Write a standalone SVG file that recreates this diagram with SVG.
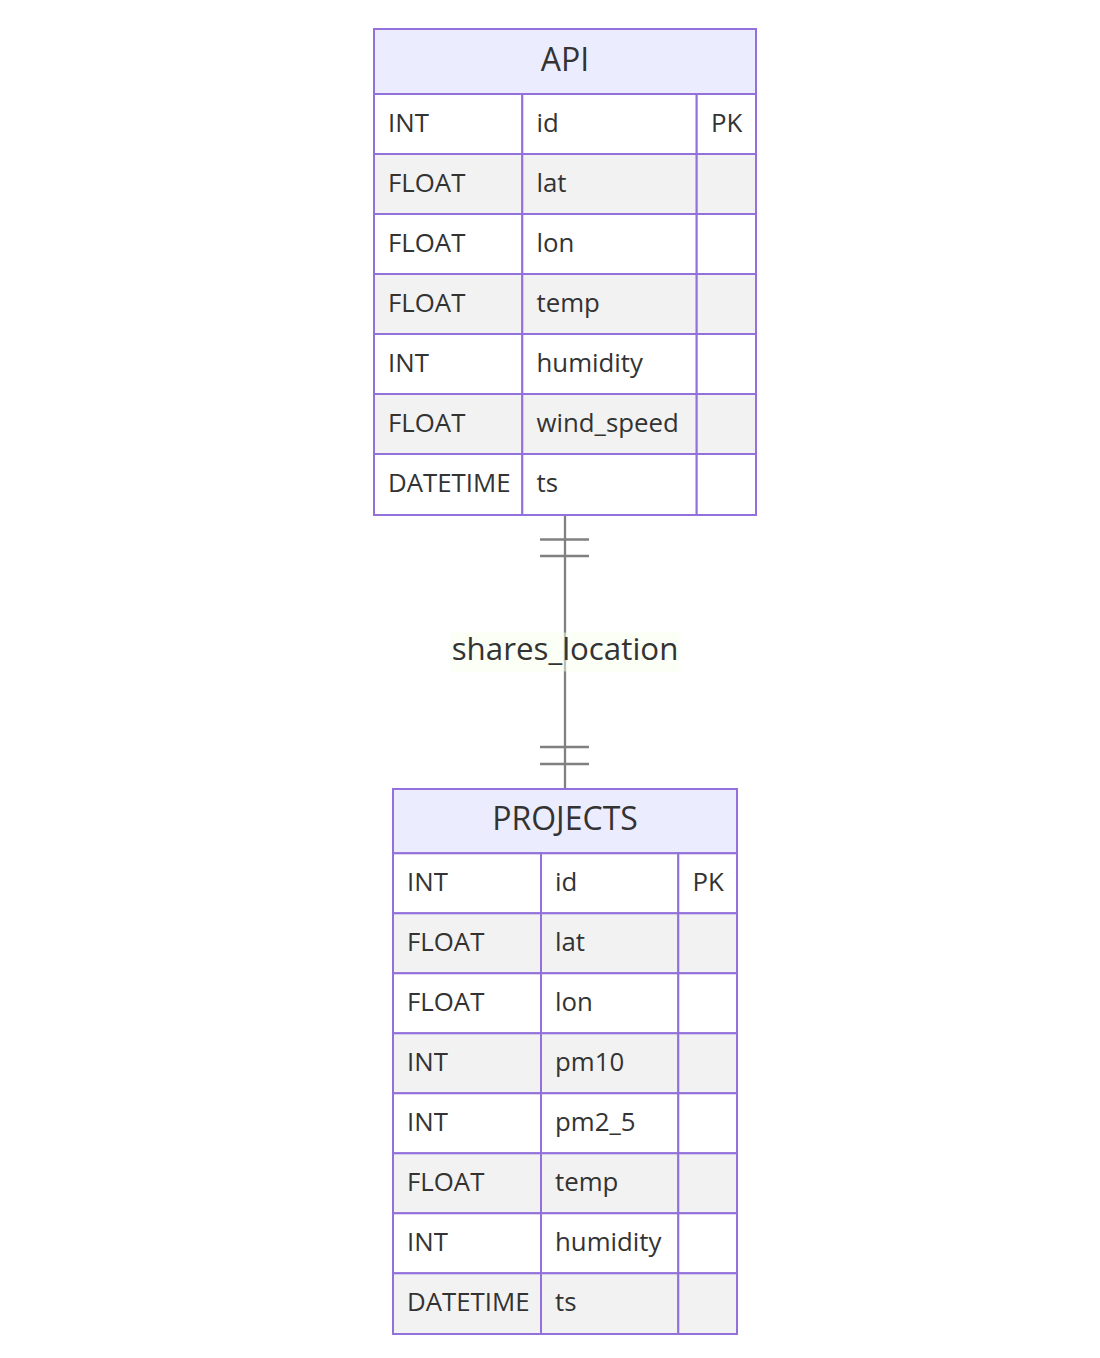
<svg xmlns="http://www.w3.org/2000/svg" width="1100" height="1358" viewBox="0 0 1100 1358">
<style>
.hdr{fill:#ECECFF;stroke:#9370DB;stroke-width:2}
.odd{fill:#ffffff;stroke:#9370DB;stroke-width:2}
.even{fill:#f2f2f2;stroke:#9370DB;stroke-width:2}
.box{fill:none;stroke:#9370DB;stroke-width:2}
.t{font-family:"Open Sans","Liberation Sans",sans-serif;fill:#333333;font-size:25.8px}
.h{font-family:"Open Sans","Liberation Sans",sans-serif;fill:#333333;font-size:32px;text-anchor:middle}
.rel{stroke:#808080;stroke-width:2.3;fill:none}
.lblbg{fill:hsl(80,100%,96.27%);opacity:0.5}
.lbl{font-family:"Open Sans","Liberation Sans",sans-serif;fill:#333333;font-size:31.3px;text-anchor:middle}
</style>
<rect width="1100" height="1358" fill="#ffffff"/>
<g id="connectors">
<line class="rel" x1="565" y1="515" x2="565" y2="789"/>
<line class="rel" x1="540" y1="539.5" x2="589" y2="539.5"/>
<line class="rel" x1="540" y1="556" x2="589" y2="556"/>
<line class="rel" x1="540" y1="747" x2="589" y2="747"/>
<line class="rel" x1="540" y1="764" x2="589" y2="764"/>
<rect class="lblbg" x="450.5" y="632.5" width="229" height="39"/>
<text class="lbl" x="565" y="659.5">shares_location</text>
</g>
<g id="API">
<rect class="hdr" x="374" y="29" width="382" height="65"/>
<text class="h" x="565" y="71">API</text>
<g>
<rect class="odd" x="374" y="94" width="148.3" height="60"/><rect class="odd" x="522.3" y="94" width="174.4" height="60"/><rect class="odd" x="696.7" y="94" width="59.3" height="60"/>
<rect class="even" x="374" y="154" width="148.3" height="60"/><rect class="even" x="522.3" y="154" width="174.4" height="60"/><rect class="even" x="696.7" y="154" width="59.3" height="60"/>
<rect class="odd" x="374" y="214" width="148.3" height="60"/><rect class="odd" x="522.3" y="214" width="174.4" height="60"/><rect class="odd" x="696.7" y="214" width="59.3" height="60"/>
<rect class="even" x="374" y="274" width="148.3" height="60"/><rect class="even" x="522.3" y="274" width="174.4" height="60"/><rect class="even" x="696.7" y="274" width="59.3" height="60"/>
<rect class="odd" x="374" y="334" width="148.3" height="60"/><rect class="odd" x="522.3" y="334" width="174.4" height="60"/><rect class="odd" x="696.7" y="334" width="59.3" height="60"/>
<rect class="even" x="374" y="394" width="148.3" height="60"/><rect class="even" x="522.3" y="394" width="174.4" height="60"/><rect class="even" x="696.7" y="394" width="59.3" height="60"/>
<rect class="odd" x="374" y="454" width="148.3" height="61"/><rect class="odd" x="522.3" y="454" width="174.4" height="61"/><rect class="odd" x="696.7" y="454" width="59.3" height="61"/>
</g>
<text class="t" x="388" y="132">INT</text><text class="t" x="536.5" y="132">id</text><text class="t" x="711" y="132">PK</text>
<text class="t" x="388" y="192">FLOAT</text><text class="t" x="536.5" y="192">lat</text>
<text class="t" x="388" y="252">FLOAT</text><text class="t" x="536.5" y="252">lon</text>
<text class="t" x="388" y="312">FLOAT</text><text class="t" x="536.5" y="312">temp</text>
<text class="t" x="388" y="372">INT</text><text class="t" x="536.5" y="372">humidity</text>
<text class="t" x="388" y="432">FLOAT</text><text class="t" x="536.5" y="432">wind_speed</text>
<text class="t" x="388" y="492">DATETIME</text><text class="t" x="536.5" y="492">ts</text>
<rect class="box" x="374" y="29" width="382" height="486"/>
</g>
<g id="PROJECTS">
<rect class="hdr" x="393" y="789" width="344" height="64.3"/>
<text class="h" x="565" y="830">PROJECTS</text>
<g>
<rect class="odd" x="393" y="853.3" width="148" height="60"/><rect class="odd" x="541" y="853.3" width="137.3" height="60"/><rect class="odd" x="678.3" y="853.3" width="58.7" height="60"/>
<rect class="even" x="393" y="913.3" width="148" height="60"/><rect class="even" x="541" y="913.3" width="137.3" height="60"/><rect class="even" x="678.3" y="913.3" width="58.7" height="60"/>
<rect class="odd" x="393" y="973.3" width="148" height="60"/><rect class="odd" x="541" y="973.3" width="137.3" height="60"/><rect class="odd" x="678.3" y="973.3" width="58.7" height="60"/>
<rect class="even" x="393" y="1033.3" width="148" height="60"/><rect class="even" x="541" y="1033.3" width="137.3" height="60"/><rect class="even" x="678.3" y="1033.3" width="58.7" height="60"/>
<rect class="odd" x="393" y="1093.3" width="148" height="60"/><rect class="odd" x="541" y="1093.3" width="137.3" height="60"/><rect class="odd" x="678.3" y="1093.3" width="58.7" height="60"/>
<rect class="even" x="393" y="1153.3" width="148" height="60"/><rect class="even" x="541" y="1153.3" width="137.3" height="60"/><rect class="even" x="678.3" y="1153.3" width="58.7" height="60"/>
<rect class="odd" x="393" y="1213.3" width="148" height="60"/><rect class="odd" x="541" y="1213.3" width="137.3" height="60"/><rect class="odd" x="678.3" y="1213.3" width="58.7" height="60"/>
<rect class="even" x="393" y="1273.3" width="148" height="60.7"/><rect class="even" x="541" y="1273.3" width="137.3" height="60.7"/><rect class="even" x="678.3" y="1273.3" width="58.7" height="60.7"/>
</g>
<text class="t" x="407" y="891">INT</text><text class="t" x="555" y="891">id</text><text class="t" x="692.5" y="891">PK</text>
<text class="t" x="407" y="951">FLOAT</text><text class="t" x="555" y="951">lat</text>
<text class="t" x="407" y="1011">FLOAT</text><text class="t" x="555" y="1011">lon</text>
<text class="t" x="407" y="1071">INT</text><text class="t" x="555" y="1071">pm10</text>
<text class="t" x="407" y="1131">INT</text><text class="t" x="555" y="1131">pm2_5</text>
<text class="t" x="407" y="1191">FLOAT</text><text class="t" x="555" y="1191">temp</text>
<text class="t" x="407" y="1251">INT</text><text class="t" x="555" y="1251">humidity</text>
<text class="t" x="407" y="1311">DATETIME</text><text class="t" x="555" y="1311">ts</text>
<rect class="box" x="393" y="789" width="344" height="545"/>
</g>
</svg>
